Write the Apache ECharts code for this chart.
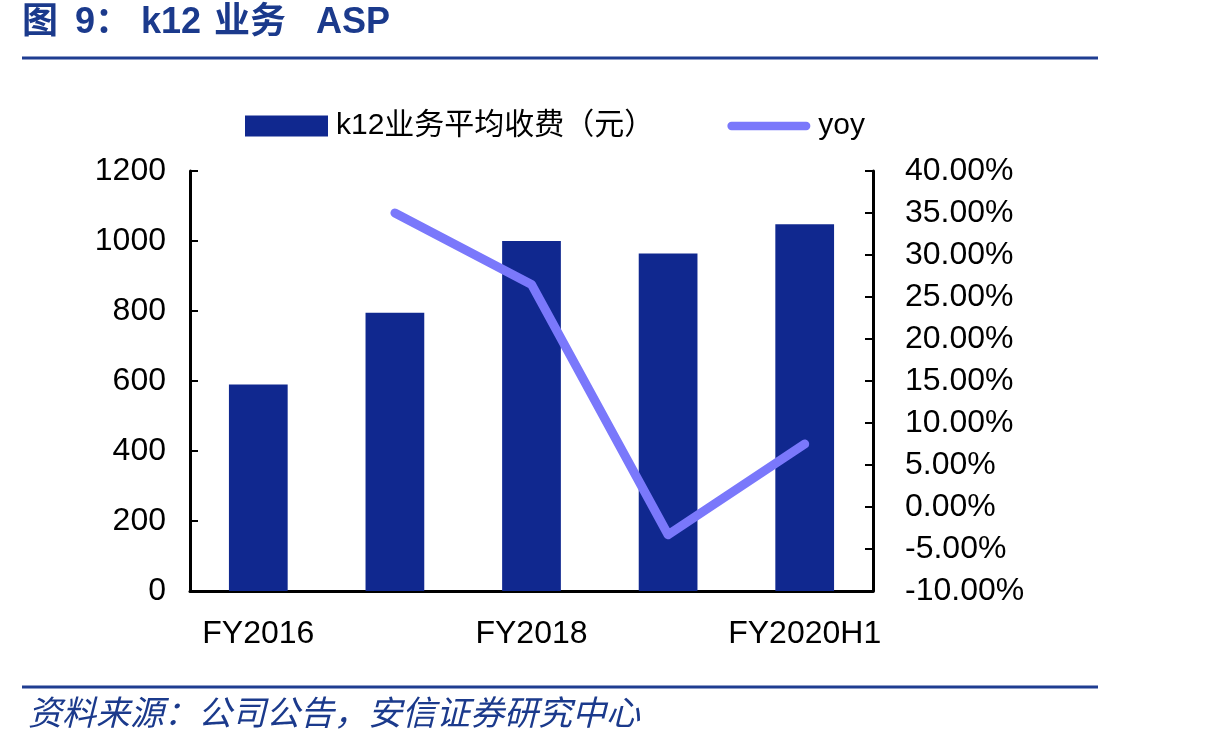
<!DOCTYPE html>
<html>
<head>
<meta charset="utf-8">
<script src="https://cdn.jsdelivr.net/npm/echarts@6/dist/echarts.min.js"></script>
<style>
  html, body { margin: 0; padding: 0; background: #fff; }
  #chart { width: 1214px; height: 743px; }
</style>
</head>
<body>
<div id="chart"></div>
<script>
// 数据
var categories = ['FY2016', 'FY2017', 'FY2018', 'FY2019', 'FY2020H1'];
var asp = [590, 795, 1000, 964, 1048];
var yoy = [null, 35.0, 26.5, -3.3, 7.5];
var leftTicks = [0, 1200, 200];
var rightTicks = [-10, 40, 5];

var myChart = echarts.init(document.getElementById('chart'));

var latin = 'Liberation Sans, Arial, sans-serif';
var cjk = '"Noto Sans CJK SC", sans-serif';
var titleColor = '#1b3a8c';

// 标题分段摆放
function titlePart(txt, x) {
    return {
        type: 'text', left: x, top: 5,
        style: { text: txt, fill: titleColor, font: 'bold 36px ' + latin + ', ' + cjk }
    };
}

var option = {
    animation: false,
    backgroundColor: '#fff',
    graphic: [
        titlePart('图', 22),
        titlePart('9：', 75),
        titlePart('k12', 141),
        titlePart('业务', 214),
        titlePart('ASP', 316),
        {
            type: 'line', shape: { x1: 22, y1: 58, x2: 1098, y2: 58 },
            style: { stroke: '#1f3d91', lineWidth: 3 }
        },
        {
            type: 'line', shape: { x1: 22, y1: 687, x2: 1098, y2: 687 },
            style: { stroke: '#1f3d91', lineWidth: 3 }
        },
        {
            type: 'text', left: 28, top: 695,
            style: { text: '资料来源：公司公告，安信证券研究中心', fill: titleColor, font: 'italic 34px ' + cjk }
        }
    ],
    legend: {
        left: 245, top: 111, padding: 0,
        itemWidth: 83, itemHeight: 21, itemGap: 73,
        textStyle: { fontSize: 30, color: '#000', fontFamily: latin + ', ' + cjk, padding: [0, 0, 0, 3] },
        data: [
            { name: 'k12业务平均收费（元）', icon: 'rect' },
            { name: 'yoy', icon: 'path://M5,0 H95 A5,5 0 0 1 95,10 H5 A5,5 0 0 1 5,0 Z' }
        ]
    },
    grid: { left: 190, right: 341, top: 171, bottom: 152, containLabel: false },
    xAxis: {
        type: 'category',
        data: categories,
        boundaryGap: true,
        axisLine: { lineStyle: { color: '#000', width: 3 } },
        axisTick: { inside: true, length: 7, lineStyle: { color: '#000', width: 2 } },
        axisLabel: { interval: 1, color: '#000', fontSize: 32, fontFamily: latin, margin: 27 }
    },
    yAxis: [
        {
            type: 'value',
            min: leftTicks[0], max: leftTicks[1], interval: leftTicks[2],
            splitLine: { show: false },
            axisLine: { show: true, lineStyle: { color: '#000', width: 3 } },
            axisTick: { show: true, inside: true, length: 8, lineStyle: { color: '#000', width: 2 } },
            axisLabel: {
                color: '#000', fontSize: 32, fontFamily: latin, margin: 24,
                formatter: function (v) { return String(v); }
            }
        },
        {
            type: 'value',
            min: rightTicks[0], max: rightTicks[1], interval: rightTicks[2],
            position: 'right',
            splitLine: { show: false },
            axisLine: { show: true, lineStyle: { color: '#000', width: 3 } },
            axisTick: { show: true, inside: true, length: 8, lineStyle: { color: '#000', width: 2 } },
            axisLabel: {
                color: '#000', fontSize: 32, fontFamily: latin, margin: 32,
                formatter: function (v) { return v.toFixed(2) + '%'; }
            }
        }
    ],
    series: [
        {
            name: 'k12业务平均收费（元）',
            type: 'bar',
            data: asp,
            barWidth: '43%',
            itemStyle: { color: '#10288f' }
        },
        {
            name: 'yoy',
            type: 'line',
            yAxisIndex: 1,
            data: yoy,
            symbol: 'none',
            connectNulls: false,
            lineStyle: { color: '#7a78fb', width: 9, cap: 'round', join: 'round' },
            itemStyle: { color: '#7a78fb' }
        }
    ]
};

myChart.setOption(option);
</script>
</body>
</html>
